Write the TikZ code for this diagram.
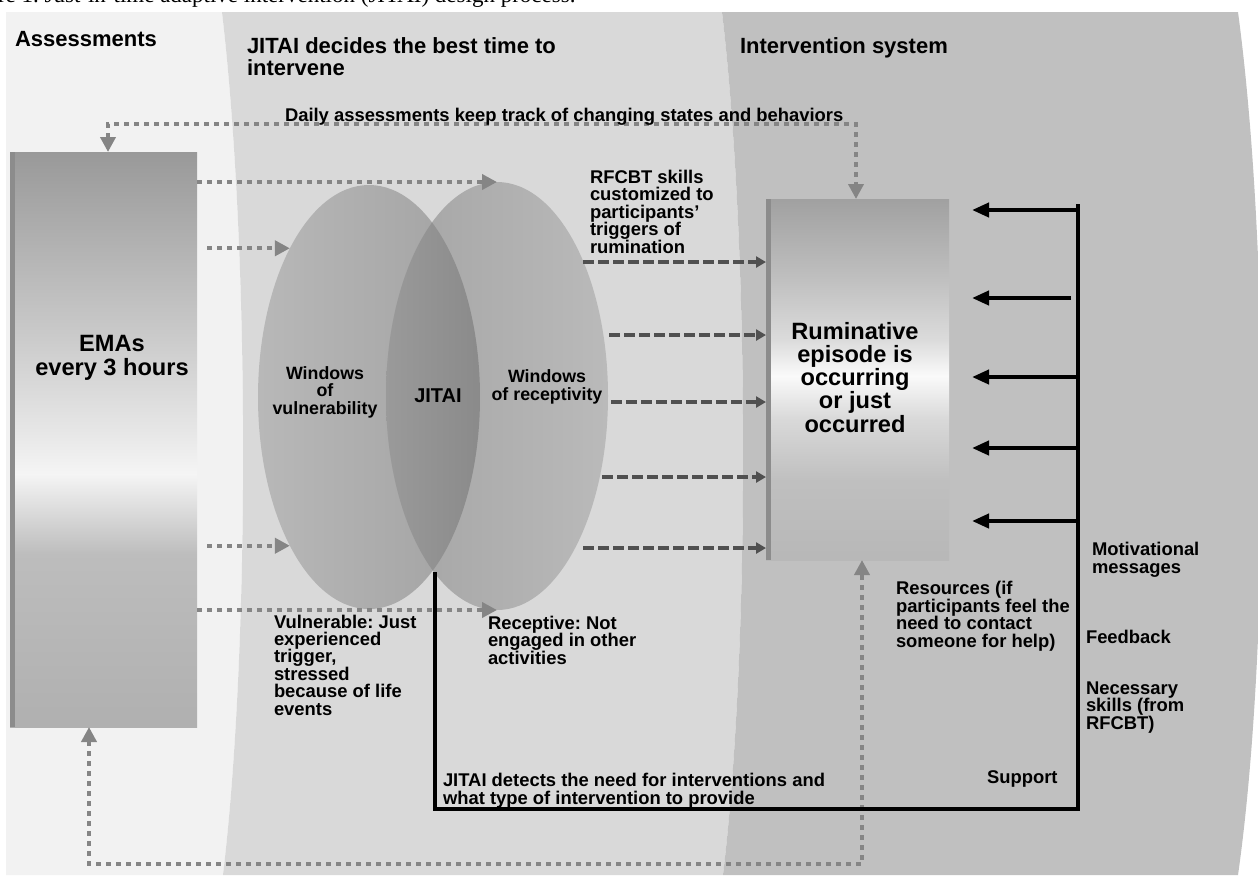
\documentclass[tikz,border=0pt]{standalone}
\usepackage{fontspec}
\setmainfont{Liberation Sans}
\newfontfamily\fuenteLeyenda{Liberation Serif}
\usetikzlibrary{arrows.meta, shapes.geometric}
\frenchspacing

% Degradados verticales de las cajas
\pgfdeclareverticalshading{degradadoEMA}{100bp}{%
  color(0bp)=(black!31); color(25bp)=(black!31); color(40bp)=(black!26);
  color(47bp)=(black!4); color(51bp)=(black!10); color(60bp)=(black!22);
  color(75bp)=(black!40); color(100bp)=(black!40)}
\pgfdeclareverticalshading{degradadoRumi}{100bp}{%
  color(0bp)=(black!28); color(25bp)=(black!28); color(36bp)=(black!25);
  color(44.5bp)=(black!15); color(50.5bp)=(black!2); color(55.5bp)=(black!14);
  color(64bp)=(black!25); color(75bp)=(black!37); color(100bp)=(black!37)}

\begin{document}
\begin{tikzpicture}[
    x=0.5pt, y=-0.5pt,
    every node/.style={font=\bfseries, inner sep=0pt, outer sep=0pt},
    % Estilo para los titulos de columna (base = ultima linea)
    titulo/.style={font=\fontsize{11}{11}\selectfont\bfseries, anchor=base west, align=left},
    % Estilo para las etiquetas pequenas
    etiqueta/.style={font=\fontsize{9.2}{8.7}\selectfont\bfseries, anchor=base west, align=left},
    % Textos dentro de las cajas y elipses
    textoGrande/.style={font=\fontsize{11.8}{11.6}\selectfont\bfseries, anchor=base, align=center},
    textoElipse/.style={font=\fontsize{8.9}{8.7}\selectfont\bfseries, anchor=base, align=center},
    % Cajas con degradado
    cajaEMA/.style={rectangle, shading=degradadoEMA},
    cajaRumi/.style={rectangle, shading=degradadoRumi},
    % Elipses de las ventanas
    elipseVul/.style={ellipse, left color=vulIzq, right color=vulDer},
    elipseRec/.style={ellipse, left color=recIzq, right color=recDer},
    % Flechas punteadas grises (evaluaciones)
    lineaPunteada/.style={line width=2pt, grisPunto, dash pattern=on 2.5pt off 2.5pt},
    flechaPunteada/.style={lineaPunteada, -{Triangle[length=7.5pt, width=7.5pt]}},
    dobleFlechaPunteada/.style={lineaPunteada,
        {Triangle[length=7.5pt, width=7.5pt]}-{Triangle[length=7.5pt, width=7.5pt]}},
    % Flechas discontinuas oscuras (habilidades RFCBT)
    flechaDiscontinua/.style={line width=1.75pt, grisGuion, dash pattern=on 5.3pt off 2.2pt,
        -{Triangle[length=5pt, width=5.5pt]}},
    % Flechas negras (soporte)
    flechaNegra/.style={line width=2pt, black, -{Triangle[length=8.5pt, width=7pt]}},
    lineaNegra/.style={line width=2.4pt, black, line join=miter}
]
    % --- DEFINICION DE COLORES ---
    \definecolor{fondoA}{RGB}{242,242,242}
    \definecolor{fondoB}{RGB}{217,217,217}
    \definecolor{fondoC}{RGB}{192,192,192}
    \definecolor{grisPunto}{RGB}{133,133,133}
    \definecolor{grisGuion}{RGB}{80,80,80}
    \definecolor{bordeCaja}{RGB}{140,140,140}
    \definecolor{vulIzq}{RGB}{184,184,184}
    \definecolor{vulDer}{RGB}{162,162,162}
    \definecolor{recIzq}{RGB}{164,164,164}
    \definecolor{recDer}{RGB}{186,186,186}
    \definecolor{interIzq}{RGB}{154,154,154}
    \definecolor{interDer}{RGB}{138,138,138}

    \useasboundingbox (0,0) rectangle (1258,875);
    \clip (0,0) rectangle (1258,875);

    % 0. Leyenda cortada
    \node[anchor=base west, font=\fuenteLeyenda\fontsize{11.5}{12}\selectfont] (leyenda) at (-2,2)
        {re 1. Just-in-time adaptive intervention (JITAI) design process.};

    % 1. FONDOS DE LAS COLUMNAS
    \fill[fondoA] (6,12) -- (222,12) .. controls (250,250) and (250,650) .. (223,875) -- (6,875) -- cycle;
    \fill[fondoB] (222,12) .. controls (250,250) and (250,650) .. (223,875)
        -- (723,875) .. controls (750,650) and (750,250) .. (722,12) -- cycle;
    \fill[fondoC] (722,12) .. controls (750,250) and (750,650) .. (723,875)
        -- (1238,875) .. controls (1270,650) and (1270,250) .. (1238,12) -- cycle;

    % 2. Titulos
    \node[titulo] (tEvaluaciones) at (15,46) {Assessments};
    \node[titulo] (tDecide) at (247,75) {JITAI decides the best time to\\intervene};
    \node[titulo] (tSistema) at (740,53) {Intervention system};

    % 3. CAJAS
    \node[cajaEMA, minimum width=93.5pt, minimum height=287.5pt] (emas) at (103.5,439.5) {};
    \fill[bordeCaja] (emas.north west) rectangle ([xshift=2.5pt]emas.south west);
    \node[textoGrande] (tEmas) at (112,375) {EMAs\\every 3 hours};

    \node[cajaRumi, minimum width=91.5pt, minimum height=180.5pt] (rumi) at (857.5,379.5) {};
    \fill[bordeCaja] (rumi.north west) rectangle ([xshift=2.5pt]rumi.south west);
    \node[textoGrande] (tRumi) at (855,432) {Ruminative\\episode is\\occurring\\or just\\occurred};

    % 4. ELIPSES (ventanas)
    \node[elipseVul, minimum width=111pt, minimum height=212pt] (vulWin) at (369,397) {};
    \node[elipseRec, minimum width=111pt, minimum height=214pt] (recWin) at (497,396) {};
    \begin{scope}
        \clip (369,397) ellipse [x radius=111, y radius=212];
        \clip (497,396) ellipse [x radius=111, y radius=214];
        \shade[left color=interIzq, right color=interDer] (386,180) rectangle (481,612);
    \end{scope}
    \node[textoElipse] (tVul) at (325,414) {Windows\\of\\vulnerability};
    \node[font=\fontsize{10}{10}\selectfont\bfseries, anchor=base] (tJitai) at (438,402) {JITAI};
    \node[textoElipse] (tRec) at (547,400) {Windows\\of receptivity};

    % 5. Evaluaciones diarias (punteado superior e inferior)
    \coordinate (dArriba) at (480,124);
    \coordinate (dAbajo) at (480,864);
    \draw[dobleFlechaPunteada] ([xshift=2.25pt]emas.north) |- (dArriba) -| ([xshift=-0.75pt]rumi.north);
    \draw[dobleFlechaPunteada] ([xshift=-7.25pt]emas.south) |- (dAbajo) -| ([xshift=2.25pt]rumi.south);
    \node[etiqueta] (lDiaria) at (285,121) {Daily assessments keep track of changing states and behaviors};

    % 6. EMAs hacia las ventanas
    \draw[flechaPunteada] (emas.east |- recWin.north) -- (recWin.north);
    \draw[flechaPunteada] ([xshift=5pt]emas.east |- vulWin.118) -- (vulWin.118);
    \draw[flechaPunteada] ([xshift=5pt]emas.east |- vulWin.242) -- (vulWin.242);
    \draw[flechaPunteada] (emas.east |- recWin.south) -- (recWin.south);

    % 7. Habilidades RFCBT (discontinuas)
    \foreach \i/\xs/\yy in {1/583/262, 2/609/335, 3/611/402, 4/602/477, 5/583/548} {
        \coordinate (sal\i) at (\xs,\yy);
        \draw[flechaDiscontinua] (sal\i) -- (rumi.west |- sal\i);
    }

    % 8. Linea negra de deteccion y soporte
    \coordinate (jTop) at (435,572);
    \coordinate (spBot) at (1078,809);
    \coordinate (spTop) at (1078,204);
    \draw[lineaNegra] (jTop) |- (spBot) -- (spTop);
    \foreach \i/\xs/\yy in {1/1078/210, 2/1071/298, 3/1078/377, 4/1078/448, 5/1078/521} {
        \coordinate (ret\i) at (\xs,\yy);
        \draw[flechaNegra] (ret\i) -- ([xshift=11.5pt]rumi.east |- ret\i);
    }

    % 9. Etiquetas (posicion = linea base de la ultima linea)
    \node[etiqueta] (lRfcbt) at (590,253) {RFCBT skills\\customized to\\participants'\\triggers of\\rumination};
    \node[etiqueta] (lVul) at (274,715) {Vulnerable: Just\\experienced\\trigger,\\stressed\\because of life\\events};
    \node[etiqueta] (lRec) at (488,664) {Receptive: Not\\engaged in other\\activities};
    \node[etiqueta] (lDetecta) at (443,804) {JITAI detects the need for interventions and\\what type of intervention to provide};
    \node[etiqueta] (lRecursos) at (896,647) {Resources (if\\participants feel the\\need to contact\\someone for help)};
    \node[etiqueta] (lMotiv) at (1092,573) {Motivational\\messages};
    \node[etiqueta] (lFeed) at (1086,643) {Feedback};
    \node[etiqueta] (lSkills) at (1086,729) {Necessary\\skills (from\\RFCBT)};
    \node[etiqueta] (lSupport) at (987,783) {Support};
\end{tikzpicture}
\end{document}
